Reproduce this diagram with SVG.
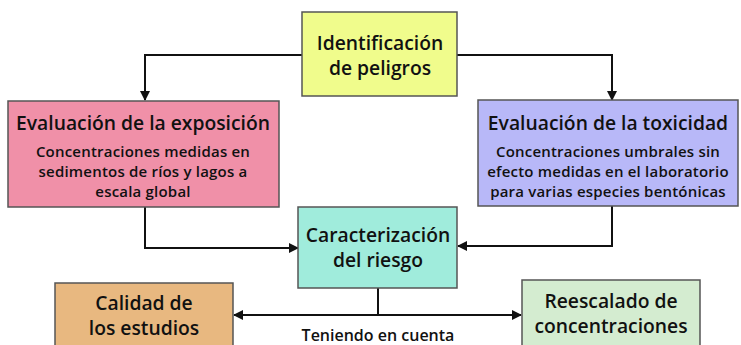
<svg xmlns="http://www.w3.org/2000/svg" width="741" height="345" viewBox="0 0 741 345">
<defs>
<style>
.box{stroke:#555;stroke-width:1.5}
.t{font-family:"Open Sans",Lato,sans-serif;font-weight:600;fill:#111;text-anchor:middle}
.h{font-size:19.3px}
.s{font-size:15px;letter-spacing:0.2px}
.n{font-size:16px}
.c{fill:none;stroke:#111;stroke-width:2}
</style>
<marker id="a" viewBox="0 0 10 10" refX="9" refY="5" markerWidth="5" markerHeight="5" orient="auto-start-reverse">
<path d="M0,0 L10,5 L0,10 z" fill="#111"/>
</marker>
</defs>
<rect width="741" height="345" fill="#fff"/>
<g id="connectors">
<path class="c" d="M302,55 H145 V100" marker-end="url(#a)"/>
<path class="c" d="M457,55 H612 V100" marker-end="url(#a)"/>
<path class="c" d="M145,207 V248 H298" marker-end="url(#a)"/>
<path class="c" d="M612,206 V246 H458" marker-end="url(#a)"/>
<path class="c" d="M378,288 V315"/>
<path class="c" d="M234,315 H521" marker-start="url(#a)" marker-end="url(#a)"/>
</g>
<g id="identificacion">
<rect class="box" x="302" y="12" width="155" height="84" fill="#f0fc8c"/>
<text class="t h" x="380" y="50">Identificación</text>
<text class="t h" x="380" y="75">de peligros</text>
</g>
<g id="exposicion">
<rect class="box" x="8" y="101" width="271" height="106" fill="#f090a8"/>
<text class="t h" x="143" y="130">Evaluación de la exposición</text>
<text class="t s" x="143" y="157">Concentraciones medidas en</text>
<text class="t s" x="143" y="177">sedimentos de ríos y lagos a</text>
<text class="t s" x="143" y="197">escala global</text>
</g>
<g id="toxicidad">
<rect class="box" x="478" y="100" width="260" height="106" fill="#b8b8f8"/>
<text class="t h" x="608" y="130">Evaluación de la toxicidad</text>
<text class="t s" x="608" y="157">Concentraciones umbrales sin</text>
<text class="t s" x="608" y="177">efecto medidas en el laboratorio</text>
<text class="t s" x="608" y="197">para varias especies bentónicas</text>
</g>
<g id="caracterizacion">
<rect class="box" x="298" y="207" width="159" height="81" fill="#a0ecdc"/>
<text class="t h" x="378" y="242">Caracterización</text>
<text class="t h" x="378" y="267">del riesgo</text>
</g>
<g id="calidad">
<rect class="box" x="55" y="283" width="178" height="70" fill="#e8b880"/>
<text class="t h" x="144" y="310">Calidad de</text>
<text class="t h" x="144" y="335">los estudios</text>
</g>
<g id="reescalado">
<rect class="box" x="522" y="280" width="178" height="73" fill="#d4ecd0"/>
<text class="t h" x="611" y="308">Reescalado de</text>
<text class="t h" x="611" y="333">concentraciones</text>
</g>
<text class="t n" x="378" y="341">Teniendo en cuenta</text>
</svg>
